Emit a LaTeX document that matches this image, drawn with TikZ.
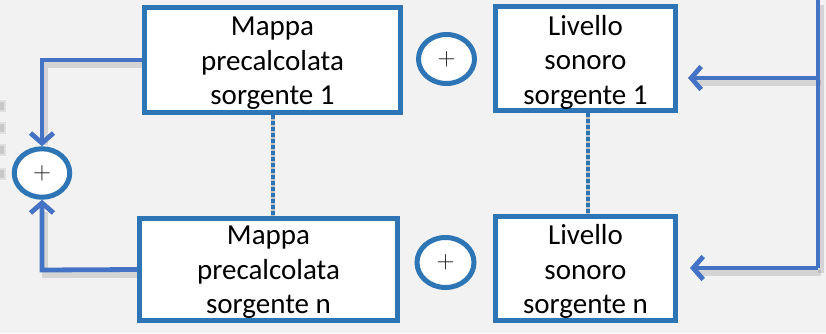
\documentclass[tikz,border=0pt]{standalone}
\usepackage{fontspec}
\setmainfont{Carlito}
\usetikzlibrary{shapes.geometric,arrows.meta,calc}
\definecolor{bg}{HTML}{F2F2F2}
\definecolor{boxblue}{HTML}{2E75B6}
\definecolor{linkblue}{HTML}{4472C4}
\definecolor{dotgray}{HTML}{BFBFBF}
\tikzset{
  blockbox/.style={draw=boxblue, line width=5pt, fill=white, rectangle, inner sep=0pt},
  blocktext/.style={align=center, font=\fontsize{29}{34.5}\selectfont, text=black, inner sep=0pt},
  sumnode/.style={draw=boxblue, line width=5pt, fill=white, ellipse, inner sep=0pt,
    font=\fontsize{30}{30}\selectfont, text=black!90},
  link/.style={draw=linkblue, line width=4.8pt, line join=miter},
  linkarrow/.style={link, -{Straight Barb[length=10pt, width=23pt, line width=4.8pt]}},
  shadowline/.style={draw=black, line width=6pt, opacity=0.12, line join=miter},
  dotline/.style={draw=boxblue, line width=4pt, dash pattern=on 3.5pt off 2.5pt},
  dotback/.style={draw=dotgray, line width=4pt},
}
\begin{document}
\begin{tikzpicture}[x=1pt,y=-1pt]
\useasboundingbox (0,0) rectangle (826,333);
\fill[bg] (0,0) rectangle (826,333);

% faint cut-off marks at the left edge
\foreach \yy in {106,128,150,174}{
  \fill[black, opacity=0.08] (0,\yy-6) rectangle (6,\yy+6);
  \fill[black, opacity=0.10] (0,\yy-4) rectangle (4,\yy+4);
}

% coordinates of connector corners
\coordinate (lt) at (42,60);
\coordinate (lb) at (42,270);
\coordinate (rtop) at (818,-5);
\coordinate (r1) at (818,78);
\coordinate (rn) at (818,268);

% shadows of connectors
\begin{scope}[shift={(3,5)}]
  \draw[shadowline] (142,60) -- (42,60) -- (42,140);
  \draw[shadowline] (137,270) -- (42,270) -- (42,207);
  \draw[shadowline] (818,0) -- (818,268);
  \draw[shadowline] (818,78) -- (692,78);
  \draw[shadowline] (818,268) -- (694,268);
\end{scope}

% boxes
\node[blockbox, minimum width=256pt, minimum height=105pt] (b1) at (272.5,60) {};
\node[blockbox, minimum width=258pt, minimum height=102pt] (bn) at (268.5,269.5) {};
\node[blockbox, minimum width=180pt, minimum height=104pt] (l1) at (585.5,58.5) {};
\node[blockbox, minimum width=180pt, minimum height=104pt] (ln) at (585.5,268.5) {};

% box texts
\node[blocktext] (b1t) at ($(b1.center)+(0,3.5)$) {Mappa\\precalcolata\\sorgente 1};
\node[blocktext] (bnt) at ($(bn.center)+(0,3)$) {Mappa\\precalcolata\\sorgente n};
\node[blocktext] (l1t) at ($(l1.center)+(0,3.5)$) {Livello\\sonoro\\sorgente 1};
\node[blocktext] (lnt) at ($(ln.center)+(0,3)$) {Livello\\sonoro\\sorgente n};

% sum nodes
\node[sumnode, minimum width=56pt, minimum height=49pt] (s1) at (446.5,59) {$+$};
\node[sumnode, minimum width=57pt, minimum height=50pt] (sn) at (445.5,262.5) {$+$};
\node[sumnode, minimum width=55.5pt, minimum height=48.5pt] (s0) at (42,173) {$+$};

% dotted links
\draw[dotback] (b1.south) -- (b1.south |- bn.north);
\draw[dotline] (b1.south) -- (b1.south |- bn.north);
\draw[dotback] ($(l1.south)+(2.5,0)$) -- ($(ln.north)+(2.5,0)$);
\draw[dotline] ($(l1.south)+(2.5,0)$) -- ($(ln.north)+(2.5,0)$);

% left connectors
\draw[linkarrow] (b1.west) -- (lt) -- (s0.north);
\draw[linkarrow] (bn.west) -- (lb) -- (s0.south);

% right connectors
\draw[link] (rtop) -- (rn);
\draw[linkarrow, shorten >=10pt] (r1) -- (r1 -| l1.east);
\draw[linkarrow, shorten >=12pt] (rn) -- (rn -| ln.east);
\end{tikzpicture}
\end{document}
